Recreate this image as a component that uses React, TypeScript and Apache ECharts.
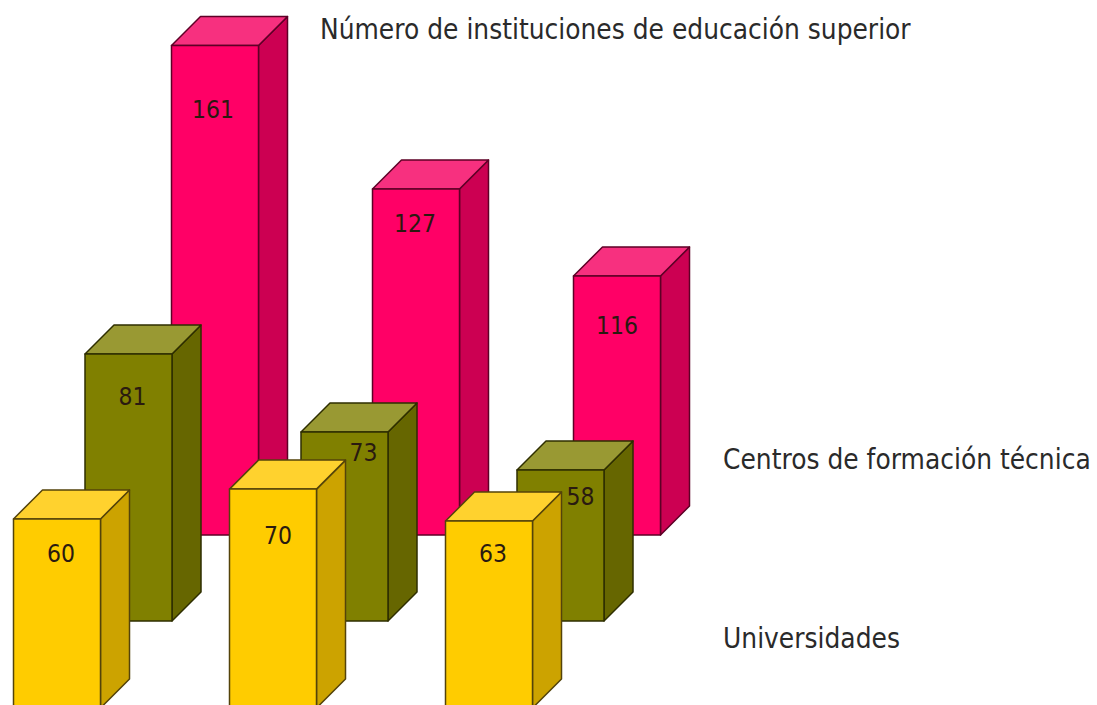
import React, { useEffect, useRef } from "react";
import * as echarts from "echarts";

// Printed values
const columns = ["1", "2", "3"];
const instituciones = [161, 127, 116];
const centros = [81, 73, 58];
const universidades = [60, 70, 63];
// Apparent bar heights (the drawing is not proportional to the printed values)
const institucionesDrawn = [161, 113.8, 85.2];
const centrosDrawn = [87.8, 62.2, 49.7];
const universidadesDrawn = [62.2, 72, 61.5];
const rowNames = ["Número de instituciones de educación superior", "Centros de formación técnica", "Universidades"];

const AXIS_MIN = 5;
const AXIS_MAX = 170;
const PX_PER_UNIT = 3.04;
const BAR_W = 87;
const DEPTH = 29;
const FONT = '"DejaVu Sans", sans-serif';

const rows = [
  {
    values: institucionesDrawn, labels: instituciones,
    first: 215, band: 201, base: 535,
    front: "#FF0066", top: "#F7307F", side: "#CC0052", edge: "#5e0026",
    labelDx: [-2, -1, 0], labelDy: [64, 34, 49],
  },
  {
    values: centrosDrawn, labels: centros,
    first: 128.5, band: 216, base: 621,
    front: "#808000", top: "#999933", side: "#666600", edge: "#2e2e00",
    labelDx: [4, 19, 20], labelDy: [42, 21, 27],
  },
  {
    values: universidadesDrawn, labels: universidades,
    first: 57, band: 216, base: 708,
    front: "#FFCC00", top: "#FFD22E", side: "#CCA300", edge: "#54430a",
    labelDx: [4, 5, 4], labelDy: [35, 46, 32],
  },
];

const rowLabelPos = [
  { x: 320, y: 29 },
  { x: 723, y: 459 },
  { x: 723, y: 638 },
];

function poly(points: number[][], fill: string, edge: string) {
  return {
    type: "polygon",
    shape: { points },
    style: { fill, stroke: edge, lineWidth: 1.5, lineJoin: "round" },
  };
}

function makeRender(row: (typeof rows)[number]) {
  return (params: any, api: any) => {
    const i = api.value(0);
    const [cx, yBase] = api.coord([i, 0]);
    const [, yTop] = api.coord([i, api.value(1)]);
    const x0 = cx - BAR_W / 2;
    const x1 = cx + BAR_W / 2;
    return {
      type: "group",
      children: [
        poly([[x1, yTop], [x1 + DEPTH, yTop - DEPTH], [x1 + DEPTH, yBase - DEPTH], [x1, yBase]], row.side, row.edge),
        poly([[x0, yTop], [x0 + DEPTH, yTop - DEPTH], [x1 + DEPTH, yTop - DEPTH], [x1, yTop]], row.top, row.edge),
        poly([[x0, yTop], [x1, yTop], [x1, yBase], [x0, yBase]], row.front, row.edge),
        {
          type: "text",
          x: cx + row.labelDx[i],
          y: yTop + row.labelDy[i],
          scaleY: 1.15,
          style: {
            text: String(row.labels[i]),
            x: 0,
            y: 0,
            align: "center",
            verticalAlign: "middle",
            fill: "#2a1a10",
            font: `22px ${FONT}`,
          },
        },
      ],
    };
  };
}

export default function App() {
  const ref = useRef<HTMLDivElement>(null);
  useEffect(() => {
    document.body.style.margin = "0";
    document.body.style.background = "#fff";
    const chart = echarts.init(ref.current!, null, { renderer: "svg" });
    chart.setOption({
      animation: false,
      backgroundColor: "#ffffff",
      grid: rows.map((r) => ({
        left: r.first,
        width: r.band * (columns.length - 1),
        top: r.base - AXIS_MAX * PX_PER_UNIT,
        height: (AXIS_MAX - AXIS_MIN) * PX_PER_UNIT,
        containLabel: false,
      })),
      xAxis: rows.map((_, g) => ({ type: "category", gridIndex: g, data: columns, boundaryGap: false, show: false })),
      yAxis: rows.map((_, g) => ({ type: "value", gridIndex: g, min: AXIS_MIN, max: AXIS_MAX, show: false })),
      series: rows.map((r, g) => ({
        type: "custom",
        xAxisIndex: g,
        yAxisIndex: g,
        z: 2 + g,
        clip: false,
        renderItem: makeRender(r),
        data: r.values.map((v, i) => [i, v]),
        encode: { x: 0, y: 1 },
      })),
      graphic: rowNames.map((name, i) => ({
        type: "text",
        x: rowLabelPos[i].x,
        y: rowLabelPos[i].y,
        scaleY: 1.12,
        style: {
          text: name,
          x: 0,
          y: 0,
          align: "left",
          verticalAlign: "middle",
          fill: "#2a2a2a",
          font: `25px ${FONT}`,
        },
      })),
    });
    return () => chart.dispose();
  }, []);
  return <div ref={ref} style={{ position: "fixed", left: 0, top: 0, width: 1097, height: 705 }} />;
}
